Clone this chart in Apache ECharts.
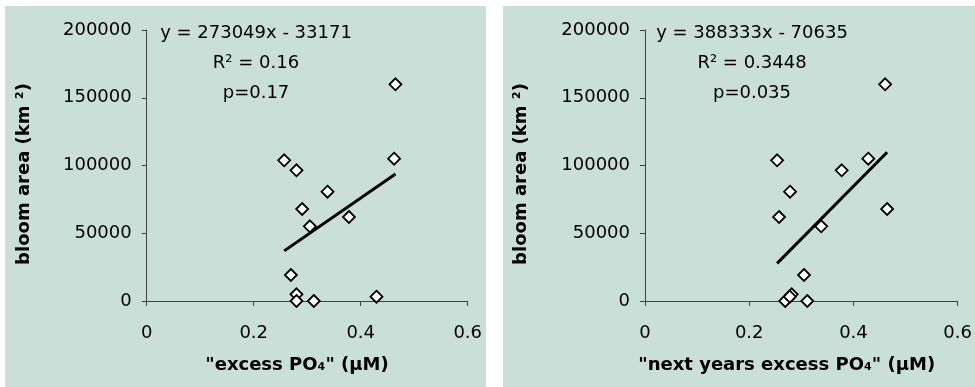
<!DOCTYPE html>
<html>
<head>
<meta charset="utf-8">
<script src="https://cdn.jsdelivr.net/npm/echarts@6/dist/echarts.min.js"></script>
<style>
html,body{margin:0;padding:0;background:#fff;}
#c{width:975px;height:387px;}
</style>
</head>
<body>
<div id="c"></div>
<script>
// ---- data ----
var bloomArea = [103840, 96450, 67900, 80660, 55130, 62000, 105020, 159900, 19190, 4940, 0, 0, 3200];
var excessPO4 = [0.257, 0.280, 0.2906, 0.338, 0.305, 0.378, 0.4624, 0.465, 0.2695, 0.280, 0.280, 0.3124, 0.4295];
var nextExcessPO4 = [0.2535, 0.3774, 0.4646, 0.2783, 0.3381, 0.2572, 0.4284, 0.4608, 0.3051, 0.2815, 0.2690, 0.3114, 0.278];
var fitLeft = {slope: 273049, intercept: -33171};
var fitRight = {slope: 388333, intercept: -70635};
var xTicks = [0, 0.2, 0.4, 0.6];
var yTicks = [0, 50000, 100000, 150000, 200000];
var annLeft = ['y = 273049x - 33171', 'R\u00B2 = 0.16', 'p=0.17'];
var annRight = ['y = 388333x - 70635', 'R\u00B2 = 0.3448', 'p=0.035'];
var yTitle = 'bloom area (km \u00B2)';
var xTitleLeft = '"excess PO\u2084" (\u00B5M)';
var xTitleRight = '"next years excess PO\u2084" (\u00B5M)';

var FONT = 'DejaVu Sans';
var BG = '#C9DFD7';

function pairs(xs, ys) { return xs.map(function (x, i) { return [x, ys[i]]; }); }
function fitLine(xs, fit) {
  var lo = Math.min.apply(null, xs), hi = Math.max.apply(null, xs);
  return [[lo, fit.slope * lo + fit.intercept], [hi, fit.slope * hi + fit.intercept]];
}

function xAxisCfg(gi) {
  return {
    type: 'value', gridIndex: gi, min: xTicks[0], max: xTicks[xTicks.length - 1], interval: 0.2,
    axisLine: {show: true, onZero: false, lineStyle: {color: '#404040', width: 1}},
    axisTick: {show: true, inside: false, length: 5, lineStyle: {color: '#404040'}},
    axisLabel: {color: '#000', fontFamily: FONT, fontSize: 18, margin: 23,
      formatter: function (v) { return String(Math.round(v * 10) / 10); }},
    splitLine: {show: false}
  };
}
function yAxisCfg(gi) {
  return {
    type: 'value', gridIndex: gi, min: yTicks[0], max: yTicks[yTicks.length - 1], interval: 50000,
    axisLine: {show: true, lineStyle: {color: '#404040', width: 1}},
    axisTick: {show: true, inside: false, length: 5, lineStyle: {color: '#404040'}},
    axisLabel: {color: '#000', fontFamily: FONT, fontSize: 18, margin: 15,
      formatter: function (v) { return String(v); }},
    splitLine: {show: false}
  };
}
function txt(x, y, text, opts) {
  opts = opts || {};
  return {
    type: 'text', x: x, y: y, rotation: opts.rotation || 0, z: 10,
    style: {text: text, fill: '#000', font: (opts.bold ? 'bold ' : '') + (opts.size || 18) + 'px "' + FONT + '"',
      align: 'center', verticalAlign: 'middle'}
  };
}

var chart = echarts.init(document.getElementById('c'), null, {renderer: 'canvas'});
var option = {
  backgroundColor: '#ffffff',
  animation: false,
  grid: [
    {left: 146.7, top: 30, width: 321, height: 271},
    {left: 645, top: 30, width: 320.7, height: 271}
  ],
  xAxis: [xAxisCfg(0), xAxisCfg(1)],
  yAxis: [yAxisCfg(0), yAxisCfg(1)],
  graphic: [
    {type: 'rect', z: -10, shape: {x: 5, y: 6, width: 481, height: 381}, style: {fill: BG}},
    {type: 'rect', z: -10, shape: {x: 503, y: 6, width: 472, height: 381}, style: {fill: BG}},
    txt(256, 33, annLeft[0]), txt(256, 63, annLeft[1]), txt(256, 93, annLeft[2]),
    txt(752, 33, annRight[0]), txt(752, 63, annRight[1]), txt(752, 93, annRight[2]),
    txt(24, 174, yTitle, {bold: true, rotation: Math.PI / 2}),
    txt(521.5, 174, yTitle, {bold: true, rotation: Math.PI / 2}),
    txt(297, 365.7, xTitleLeft, {bold: true}),
    txt(786.7, 365.7, xTitleRight, {bold: true})
  ],
  series: [
    {type: 'line', xAxisIndex: 0, yAxisIndex: 0, data: fitLine(excessPO4, fitLeft), symbol: 'none',
      lineStyle: {color: '#000', width: 3}, z: 2},
    {type: 'line', xAxisIndex: 1, yAxisIndex: 1, data: fitLine(nextExcessPO4, fitRight), symbol: 'none',
      lineStyle: {color: '#000', width: 3}, z: 2},
    {type: 'scatter', xAxisIndex: 0, yAxisIndex: 0, data: pairs(excessPO4, bloomArea), symbol: 'diamond',
      symbolSize: 12, itemStyle: {color: '#fff', borderColor: '#000', borderWidth: 1.8, opacity: 1}, z: 3},
    {type: 'scatter', xAxisIndex: 1, yAxisIndex: 1, data: pairs(nextExcessPO4, bloomArea), symbol: 'diamond',
      symbolSize: 12, itemStyle: {color: '#fff', borderColor: '#000', borderWidth: 1.8, opacity: 1}, z: 3}
  ]
};
chart.setOption(option);
</script>
</body>
</html>
